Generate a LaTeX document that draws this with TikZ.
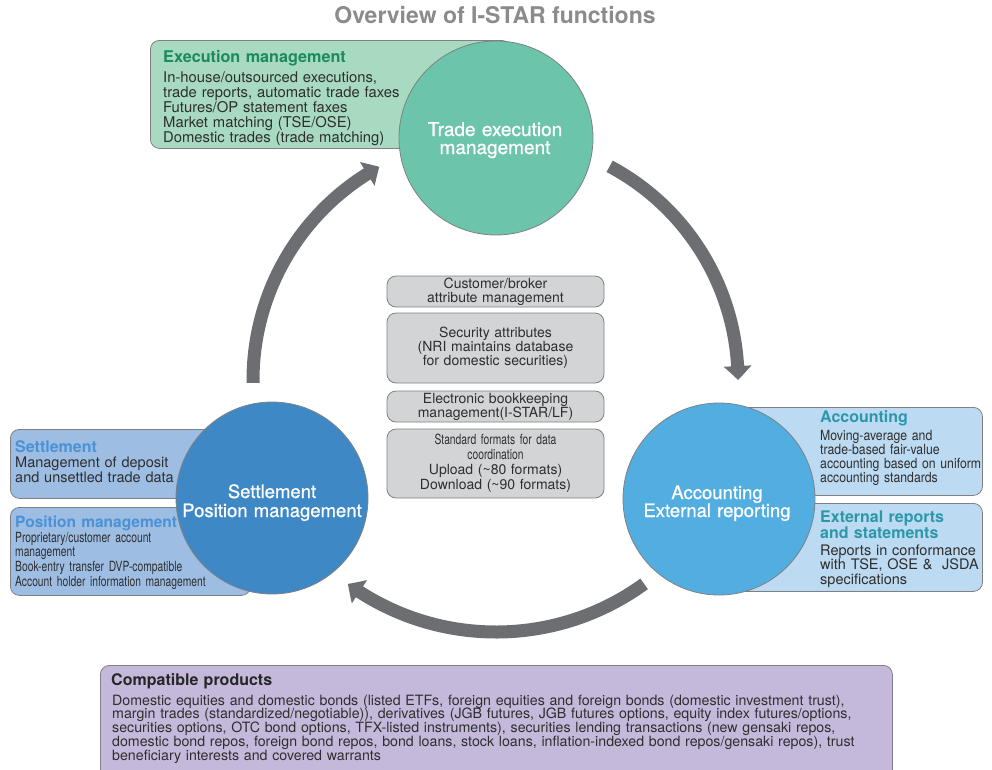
\documentclass[tikz,border=0pt]{standalone}
\usepackage{fontspec}
\setmainfont{TeX Gyre Heros}
\newfontfamily\condA[FakeStretch=0.735]{TeX Gyre Heros}
\newfontfamily\condB[FakeStretch=0.875]{TeX Gyre Heros}
\newfontfamily\medfont[FakeBold=0.9]{TeX Gyre Heros}
\usetikzlibrary{arrows.meta,bending}
\newcommand\fsz[2]{\fontsize{#1}{#2}\selectfont}
\definecolor{titlegray}{HTML}{8A8B8D}
\definecolor{bodytext}{HTML}{2E2E2E}
\definecolor{edgegray}{HTML}{7F8083}
\definecolor{arrowgray}{HTML}{6D6E71}
\definecolor{greencirc}{HTML}{6CC5AB}
\definecolor{greenbox}{HTML}{A8D9C1}
\definecolor{greentitle}{HTML}{1B8A5C}
\definecolor{bluecirc}{HTML}{3F88C6}
\definecolor{bluebox}{HTML}{9DBDE3}
\definecolor{bluetitle}{HTML}{4A91D6}
\definecolor{skycirc}{HTML}{52AEE0}
\definecolor{skybox}{HTML}{BCDAF1}
\definecolor{skytitle}{HTML}{2B98AA}
\definecolor{graybox}{HTML}{D3D4D6}
\definecolor{purplebox}{HTML}{C5B9DB}
\begin{document}
\begin{tikzpicture}[x=1pt,y=1pt,
  sidebox/.style={draw=edgegray,line width=0.8pt,rounded corners=9pt,anchor=north west,inner sep=0pt,minimum width=#1},
  midbox/.style={draw=edgegray,line width=0.8pt,rounded corners=9pt,fill=graybox,inner sep=0pt,minimum width=217pt,text width=214pt,align=center,text=bodytext},
  bigcirc/.style={circle,draw=edgegray,line width=0.8pt,inner sep=0pt,minimum size=#1},
  txt/.style={inner sep=0pt,anchor=base west,text width=#1,align=left},
  ctxt/.style={inner sep=0pt,anchor=base,text width=#1,align=center,text=white},
  bigarrow/.style={draw=arrowgray,line width=13pt,line cap=butt,-{Triangle[width=27pt,length=14pt,bend]}}
]
\useasboundingbox (0,0) rectangle (992,-769);

% title
\node[anchor=base,inner sep=0pt,text=titlegray,font=\fsz{23}{26}\bfseries] (title) at (495,-23) {Overview of I-STAR functions};

% ---- side boxes (behind circles)
\node[sidebox=360pt,minimum height=108pt,fill=greenbox] (execbox) at (150,-40) {};
\node[sidebox=240pt,minimum height=69pt,fill=bluebox] (settlebox) at (10,-429) {};
\node[sidebox=240pt,minimum height=88pt,fill=bluebox] (posbox) at (10,-507) {};
\node[sidebox=282pt,minimum height=88pt,fill=skybox] (accbox) at (700,-407) {};
\node[sidebox=282pt,minimum height=88pt,fill=skybox] (extbox) at (700,-503) {};

% ---- texts of side boxes
\node[txt=300pt,text=greentitle,font=\fsz{16.2}{18}\bfseries] (exectitle) at (163,-62) {Execution management};
\node[txt=300pt,text=bodytext,font=\fsz{14.8}{15}] (execbody) at (163,-82) {In-house/outsourced executions,\\trade reports, automatic trade faxes\\Futures/OP statement faxes\\Market matching (TSE/OSE)\\Domestic trades (trade matching)};

\node[txt=230pt,text=bluetitle,font=\fsz{16}{18}\bfseries] (settletitle) at (15,-452) {Settlement};
\node[txt=230pt,text=bodytext,font=\fsz{14.5}{15}] (settlebody) at (15,-467) {Management of deposit\\and unsettled trade data};

\node[txt=230pt,text=bluetitle,font=\fsz{15.5}{18}\bfseries] (postitle) at (15,-527) {Position management};
\node[txt=230pt,text=bodytext,font=\condA\fsz{14}{14.7}] (posbody) at (15,-542) {Proprietary/customer account\\management\\Book-entry transfer DVP-compatible\\Account holder information management};

\node[txt=170pt,text=skytitle,font=\fsz{16}{18}\bfseries] (acctitle) at (820,-422) {Accounting};
\node[txt=170pt,text=bodytext,font=\condB\fsz{14}{14}] (accbody) at (820,-440) {Moving-average and\\trade-based fair-value\\accounting based on uniform\\accounting standards};

\node[txt=170pt,text=skytitle,font=\fsz{16}{15}\bfseries] (exttitle) at (820,-522) {External reports\\and statements};
\node[txt=170pt,text=bodytext,font=\fsz{14.5}{14.5}] (extbody) at (820,-555) {Reports in conformance\\with TSE, OSE \&\ \ JSDA\\specifications};

% ---- circles
\node[bigcirc=194pt,fill=greencirc] (exec) at (496,-138) {};
\node[bigcirc=192pt,fill=bluecirc] (settle) at (272,-498) {};
\node[bigcirc=192pt,fill=skycirc] (acc) at (719,-499) {};

\node[ctxt=190pt,font=\medfont\fsz{19}{18}] (exectext) at (495,-136) {Trade execution\\management};
\node[ctxt=190pt,font=\medfont\fsz{18.5}{19}] (settletext) at (272,-498) {Settlement\\Position management};
\node[ctxt=190pt,font=\medfont\fsz{18.5}{18}] (acctext) at (717,-499) {Accounting\\External reporting};

% ---- arrows around the ring
\coordinate (ring) at (496,-380);
\draw[bigarrow] ([shift={(62:242)}]ring) arc[start angle=62,end angle=0,radius=242];
\draw[bigarrow] ([shift={(-54:252)}]ring) arc[start angle=-54,end angle=-126,radius=252];
\draw[bigarrow] ([shift={(180.7:243)}]ring) arc[start angle=180.7,end angle=118.7,radius=243];

% ---- centre boxes
\node[midbox,minimum height=31pt,font=\fsz{14}{14}] (cust) at (495.5,-291.5) {Customer/broker\\attribute management};
\node[midbox,minimum height=70pt,font=\fsz{14}{14}] (secattr) at (495.5,-348) {Security attributes\\(NRI maintains database\\for domestic securities)};
\node[midbox,minimum height=31pt,font=\fsz{14}{14}] (ebook) at (495.5,-406.5) {Electronic bookkeeping\\management(I-STAR/LF)};
\node[midbox,minimum height=69pt,font=\fsz{14}{15}] (formats) at (495.5,-463.5) {{\condA Standard formats for data}\\{\condA coordination}\\Upload (\textasciitilde80 formats)\\Download (\textasciitilde90 formats)};

% ---- compatible products
\begin{scope}
\clip (0,0) rectangle (992,-769);
\node[sidebox=792pt,minimum height=140pt,fill=purplebox] (prodbox) at (100,-665) {};
\end{scope}
\node[txt=700pt,text=black!85,font=\fsz{16}{18}\bfseries] (prodtitle) at (111,-685) {Compatible products};
\node[txt=780pt,text=bodytext,font=\fsz{14.2}{13.75}] (prodbody) at (112,-705) {Domestic equities and domestic bonds (listed ETFs, foreign equities and foreign bonds (domestic investment trust),\\margin trades (standardized/negotiable)), derivatives (JGB futures, JGB futures options, equity index futures/options,\\securities options, OTC bond options, TFX-listed instruments), securities lending transactions (new gensaki repos,\\domestic bond repos, foreign bond repos, bond loans, stock loans, inflation-indexed bond repos/gensaki repos), trust\\beneficiary interests and covered warrants};
\end{tikzpicture}
\end{document}
